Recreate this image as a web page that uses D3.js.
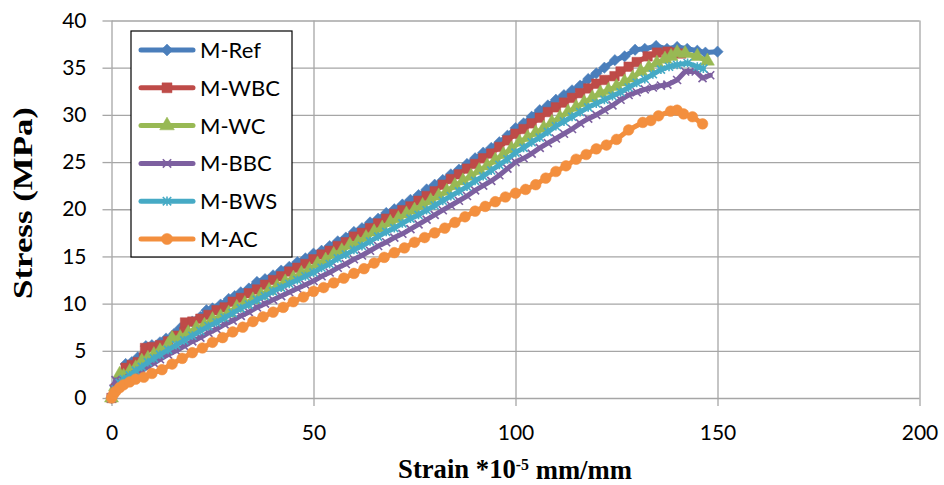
<!DOCTYPE html>
<html>
<head>
<meta charset="utf-8">
<script src="https://cdn.jsdelivr.net/npm/d3@7"></script>
<style>
  body { margin: 0; background: #fff; }
  svg { display: block; }
  .tick text { font-family: Lato, "Open Sans", sans-serif; font-size: 21px; fill: #000; }
  .grid line { stroke: #a6a6a6; stroke-width: 1.3; }
  .axis line { stroke: #a6a6a6; stroke-width: 1.3; }
  .title { font-family: "Liberation Serif", "Times New Roman", serif; font-weight: bold; font-size: 27px; fill: #000; }
  .legend text { font-family: Lato, "Open Sans", sans-serif; font-size: 22px; fill: #000; }
</style>
</head>
<body>
<div id="chart"></div>
<script>
// strain (*10^-5 mm/mm), stress (MPa)
var mRef = [[0,0],[1,1.2],[2,2.2],[3.5,3.6],[5,3.8],[6.5,4.3],[8,4.6],[8.5,5.5],[10,5.6],[12,5.9],
  [13.5,6.3],[15.5,6.8],[17,7.4],[18.5,7.8],[20,8.1],[22,8.6],[23.5,9.3],[25,9.5],[27,9.9],[29,10.5],
  [30.5,10.8],[32,11.2],[34,11.6],[36,12.3],[38,12.6],[40,13.0],[42,13.5],[44,13.9],[46,14.4],[48,14.8],
  [50,15.3],[52,15.6],[54,16.1],[56,16.6],[58,17.0],[60,17.6],[62,18.0],[64,18.6],[66,19.0],[68,19.6],
  [70,20.0],[72,20.5],[74,21.0],[76,21.5],[78,22.1],[80,22.6],[82,23.1],[84,23.7],[86,24.2],[88,24.8],
  [90,25.4],[92,26.0],[94,26.5],[96,27.1],[98,27.8],[100,28.6],[102,29.1],[104,29.8],[106,30.5],[108,31.0],
  [110,31.6],[112,32.1],[114,32.6],[116,33.1],[118,33.8],[120,34.4],[122,35.0],[124.6,35.8],[127,36.2],
  [129.6,36.9],[132,37.0],[134.8,37.3],[137.5,37.0],[140,37.2],[142.5,37.0],[145,36.8],[147,36.6],[150,36.7]];

var mWBC = [[0,0],[1,1.0],[2.5,2.0],[3.5,3.2],[5,3.5],[6.5,3.8],[8,4.3],[8.3,5.3],[10,5.4],[12,5.6],
  [14,6.0],[16,6.6],[18,7.0],[18.2,8.0],[20,8.1],[22,8.4],[24,8.8],[26,9.3],[28,9.6],[30,10.2],
  [32,10.6],[34,11.1],[36,11.5],[38,12.0],[40,12.5],[42,12.9],[44,13.4],[46,13.8],[48,14.2],[50,14.7],
  [52,15.2],[54,15.6],[56,16.1],[58,16.5],[60,17.1],[62,17.5],[64,18.0],[66,18.5],[68,19.0],[70,19.5],
  [72,19.9],[74,20.3],[76,20.9],[78,21.4],[80,21.9],[82,22.6],[84,23.2],[86,23.7],[88,24.3],[90,24.8],
  [92,25.4],[94,25.9],[96,26.6],[98,27.3],[100,28.0],[102,28.5],[104,29.1],[106,29.7],[108,30.3],[110,30.8],
  [112,31.3],[114,31.8],[116,32.3],[118,32.8],[120,33.3],[122,33.7],[124.5,34.1],[126,34.6],[128,35.1],
  [130,35.6],[132.7,36.2],[135,36.6],[137.6,36.7],[139.5,36.6],[141,36.5]];

var mWC = [[0,0],[1,1.2],[2,2.5],[3,2.3],[4.5,2.8],[6,3.2],[7.5,3.9],[9,4.2],[10.5,4.6],[12,5.0],
  [14,5.6],[15,6.3],[17,6.4],[19,6.9],[21,7.4],[23,7.7],[25,8.3],[27,8.6],[29,9.0],[31,9.6],
  [33,10.0],[35,10.4],[37,10.9],[39,11.4],[41,11.8],[43,12.3],[45,12.7],[47,13.2],[49,13.6],[51,14.2],
  [53,14.6],[55,15.2],[57,15.6],[59,16.2],[61,16.5],[63,17.0],[65,17.6],[67,18.0],[69,18.6],[71,19.0],
  [73,19.5],[75,19.9],[77,20.4],[79,20.9],[81,21.4],[83,21.9],[85,22.5],[87,23.0],[89,23.5],[91,24.1],
  [93,24.6],[95,25.2],[97,25.8],[99,26.4],[101,27.1],[103,27.6],[105,28.1],[107,28.6],[109,29.2],[111,29.7],
  [113,30.3],[115,30.8],[117,31.3],[119,31.8],[121,32.3],[123,32.6],[125,33.0],[127,33.5],[129,33.9],
  [131,34.6],[133,35.0],[135,35.5],[137,35.9],[138.5,36.2],[140,36.6],[142,36.5],[145,36.2],[147.5,35.7]];

var mBBC = [[0,0],[0.5,1.0],[1,1.9],[2,1.7],[3,1.8],[4.5,2.1],[6,2.5],[7.5,2.9],[9,3.3],[10.5,3.7],
  [12,4.1],[14,4.6],[16,5.0],[18,5.5],[20,6.0],[22,6.4],[24,6.9],[26,7.3],[28,7.8],[30,8.2],
  [32,8.7],[34,9.1],[36,9.6],[38,10.0],[40,10.4],[42,10.8],[44,11.2],[46,11.6],[48,12.0],[50,12.4],
  [52,12.9],[54,13.3],[56,13.8],[58,14.2],[60,14.7],[62,15.1],[64,15.6],[66,16.1],[68,16.5],[70,17.0],
  [72,17.4],[74,17.9],[76,18.4],[78,18.9],[80,19.4],[82,19.9],[84,20.4],[86,20.9],[88,21.4],[90,22.0],
  [92,22.5],[94,23.0],[96,23.6],[98,24.3],[100,25.0],[102,25.4],[104,25.9],[106,26.5],[108,27.0],[110,27.5],
  [112,28.0],[114,28.5],[116,29.1],[118,29.6],[120,30.0],[122,30.5],[124,31.0],[126,31.6],[128,32.1],
  [130,32.4],[132,32.7],[134,32.9],[136,33.1],[137.6,33.2],[140,33.7],[142,34.6],[144.6,34.6],[146.3,33.9],
  [148.2,34.2]];

var mBWS = [[0,0],[1,0.9],[2,1.6],[3,2.0],[4.5,2.4],[6,2.9],[7.5,3.3],[9,3.8],[10.5,4.2],[12,4.6],
  [14,5.1],[16,5.6],[18,6.1],[20,6.6],[22,7.1],[24,7.6],[26,8.0],[28,8.5],[30,9.0],[32,9.5],
  [34,9.9],[36,10.4],[38,10.8],[40,11.3],[42,11.7],[44,12.1],[46,12.5],[48,12.9],[50,13.3],[52,13.8],
  [54,14.2],[56,14.8],[58,15.2],[60,15.7],[62,16.1],[64,16.6],[66,17.1],[68,17.6],[70,18.0],[72,18.5],
  [74,19.0],[76,19.4],[78,19.9],[80,20.4],[82,20.9],[84,21.4],[86,21.9],[88,22.4],[90,23.0],[92,23.5],
  [94,24.1],[96,24.7],[98,25.3],[100,26.0],[102,26.5],[104,27.1],[106,27.6],[108,28.2],[110,28.8],[112,29.3],
  [114,29.8],[116,30.3],[118,30.8],[120,31.2],[122,31.6],[124,32.0],[126,32.4],[128,32.9],[130,33.4],
  [132,33.8],[134,34.3],[136,34.8],[138,35.1],[140,35.3],[142.6,35.5],[145,35.1],[146.5,34.9]];

var mAC = [[0,0],[0.5,0.4],[1,0.7],[2,1.1],[3,1.4],[4.5,1.7],[6,2.0],[8,2.2],[10,2.6],[12.5,3.0],
  [15,3.6],[17.5,4.2],[20,4.8],[22.5,5.3],[25,5.9],[27.5,6.4],[30,7.0],[32.5,7.5],[35,8.1],[37.5,8.6],
  [40,9.1],[42.5,9.6],[45,10.2],[47.5,10.7],[50,11.3],[52.5,11.7],[55,12.2],[57.5,12.7],[60,13.2],[62.5,13.7],
  [65,14.3],[67.5,14.9],[70,15.4],[72.5,15.9],[75,16.5],[77.5,17.0],[80,17.5],[82.5,18.0],[85,18.6],[87.5,19.2],
  [90,19.8],[92.5,20.3],[95,20.8],[97.5,21.3],[100,21.7],[102.5,22.1],[105,22.6],[107.5,23.3],[110,24.0],
  [112.5,24.6],[115,25.3],[117.5,25.8],[120,26.4],[122.5,26.8],[125,27.4],[128,28.4],[131.5,29.2],[133.5,29.4],
  [135.4,29.9],[138.4,30.4],[140,30.5],[141.6,30.1],[143.8,29.8],[146.3,29.05]];

var seriesNames = ["M-Ref", "M-WBC", "M-WC", "M-BBC", "M-BWS", "M-AC"];
var seriesColors = ["#4a7ebb", "#be4b48", "#98b954", "#7d60a0", "#46aac5", "#f38f3e"];
var xTicks = [0, 50, 100, 150, 200];
var yTicks = [0, 5, 10, 15, 20, 25, 30, 35, 40];

var width = 944, height = 485;

// marker shapes like the spreadsheet ones
var symX = {
    draw: function (ctx, size) {
        var r = Math.sqrt(size) / 2;
        ctx.moveTo(-r, -r); ctx.lineTo(r, r);
        ctx.moveTo(-r, r); ctx.lineTo(r, -r);
    }
};
var symStar = {
    draw: function (ctx, size) {
        var r = Math.sqrt(size) / 2;
        ctx.moveTo(-r, -r); ctx.lineTo(r, r);
        ctx.moveTo(-r, r); ctx.lineTo(r, -r);
        ctx.moveTo(0, -r * 1.1); ctx.lineTo(0, r * 1.1);
    }
};
var symDiamond = {
    draw: function (ctx, size) {
        var r = Math.sqrt(size) / 2 * 1.3;
        ctx.moveTo(0, -r); ctx.lineTo(r, 0); ctx.lineTo(0, r); ctx.lineTo(-r, 0); ctx.closePath();
    }
};
var markers = [
    { type: symDiamond, size: 76, filled: true },
    { type: d3.symbolSquare, size: 90, filled: true },
    { type: d3.symbolTriangle, size: 85, filled: true },
    { type: symX, size: 64, filled: false },
    { type: symStar, size: 64, filled: false },
    { type: d3.symbolCircle, size: 90, filled: true }
];

var series = [mRef, mWBC, mWC, mBBC, mBWS, mAC].map(function (d, i) {
    return { name: seriesNames[i], color: seriesColors[i], marker: markers[i], values: d };
});

var x = d3.scaleLinear().domain([0, 200]).range([111.5, 919.5]);
var y = d3.scaleLinear().domain([0, 40]).range([398, 20.5]);

var svg = d3.select("#chart").append("svg:svg")
    .attr("width", width)
    .attr("height", height);

// grid
svg.append("g")
    .attr("class", "grid")
    .attr("transform", "translate(0," + y(0) + ")")
    .call(d3.axisBottom(x).tickValues(xTicks).tickSize(-(y(0) - y(40))).tickFormat(""))
    .call(function (g) { g.select(".domain").remove(); });
svg.append("g")
    .attr("class", "grid")
    .attr("transform", "translate(" + x(0) + ",0)")
    .call(d3.axisLeft(y).tickValues(yTicks).tickSize(-(x(200) - x(0))).tickFormat(""))
    .call(function (g) { g.select(".domain").remove(); });

// axes with outside ticks and labels
svg.append("g")
    .attr("class", "axis")
    .attr("transform", "translate(0," + y(0) + ")")
    .call(d3.axisBottom(x).tickValues(xTicks).tickSize(8).tickPadding(19))
    .call(function (g) { g.select(".domain").remove(); });
svg.append("g")
    .attr("class", "axis")
    .attr("transform", "translate(" + x(0) + ",0)")
    .call(d3.axisLeft(y).tickValues(yTicks).tickSize(9).tickPadding(16))
    .call(function (g) { g.select(".domain").remove(); });

// series
var line = d3.line()
    .x(function (d) { return x(d[0]); })
    .y(function (d) { return y(d[1]); });

series.forEach(function (s) {
    var g = svg.append("g");
    g.append("path")
        .attr("d", line(s.values))
        .attr("fill", "none")
        .attr("stroke", s.color)
        .attr("stroke-width", 5)
        .attr("stroke-linejoin", "round")
        .attr("stroke-linecap", "round");
    var sym = d3.symbol().type(s.marker.type).size(s.marker.size);
    g.selectAll("path.mk")
        .data(s.values)
        .enter().append("path")
        .attr("class", "mk")
        .attr("d", sym)
        .attr("transform", function (d) { return "translate(" + x(d[0]) + "," + y(d[1]) + ")"; })
        .attr("fill", s.marker.filled ? s.color : "none")
        .attr("stroke", s.color)
        .attr("stroke-width", s.marker.filled ? 0.5 : 1.6);
});

// legend
var legend = svg.append("g").attr("class", "legend");
legend.append("rect")
    .attr("x", 131)
    .attr("y", 31)
    .attr("width", 161)
    .attr("height", 226)
    .attr("fill", "#fff")
    .attr("stroke", "#000")
    .attr("stroke-width", 1.2);
series.forEach(function (s, i) {
    var ly = 50 + i * 37.8;
    legend.append("line")
        .attr("x1", 141).attr("x2", 193)
        .attr("y1", ly).attr("y2", ly)
        .attr("stroke", s.color)
        .attr("stroke-width", 5)
        .attr("stroke-linecap", "round");
    legend.append("path")
        .attr("d", d3.symbol().type(s.marker.type).size(s.marker.size * 1.1)())
        .attr("transform", "translate(167," + ly + ")")
        .attr("fill", s.marker.filled ? s.color : "none")
        .attr("stroke", s.color)
        .attr("stroke-width", s.marker.filled ? 0.5 : 1.6);
    legend.append("text")
        .attr("x", 200)
        .attr("y", ly)
        .attr("dy", "0.36em")
        .text(s.name);
});

// axis titles, stretched to the reference widths
function fitTitle(sel, cx, cy, target, rotate) {
    var w = sel.node().getComputedTextLength();
    var k = target / w;
    sel.attr("transform", "translate(" + cx + "," + cy + ")" + (rotate ? " rotate(-90)" : "") + " scale(" + k + ",1)");
}

var yTitle = svg.append("text")
    .attr("class", "title")
    .attr("text-anchor", "middle")
    .attr("dy", "0.35em")
    .text("Stress (MPa)");
fitTitle(yTitle, 23, 203, 192, true);

var xTitle = svg.append("text")
    .attr("class", "title")
    .attr("text-anchor", "middle")
    .attr("dy", "0.35em");
xTitle.append("tspan").text("Strain *10");
xTitle.append("tspan").attr("font-size", "16px").attr("dy", "-0.5em").text("-5");
xTitle.append("tspan").attr("dy", "0.33em").text(" mm/mm");
fitTitle(xTitle, 515, 469, 234, false);
</script>
</body>
</html>
